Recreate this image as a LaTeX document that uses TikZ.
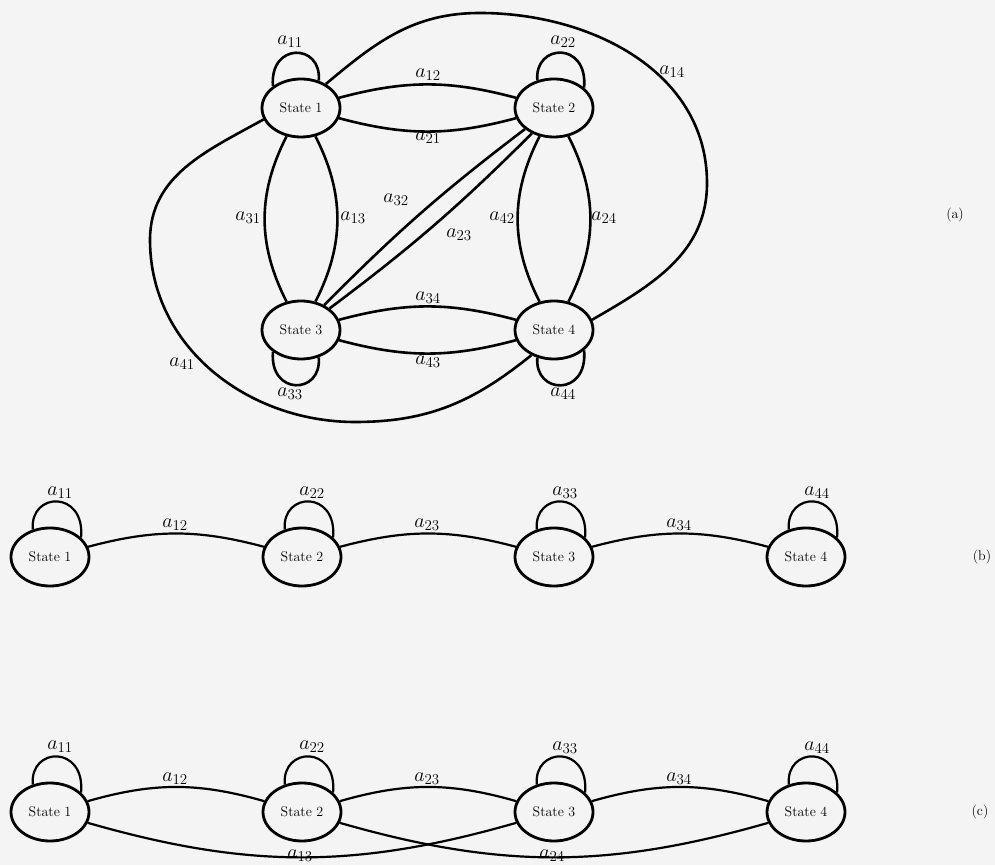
\RequirePackage{fix-cm}
\documentclass[tikz,border=0pt]{standalone}
\usetikzlibrary{shapes.geometric}
\DeclareMathSizes{20}{20}{15}{12}
\definecolor{bgc}{RGB}{244,244,244}
\tikzset{
  st/.style={ellipse, draw, line width=2.8pt, minimum width=78pt, minimum height=58pt,
             inner sep=0pt, font=\fontsize{14}{16}\selectfont},
  ed/.style={line width=2.6pt},
  edb/.style={line width=2.2pt},
  lab/.style={font=\fontsize{20}{23}\selectfont, inner sep=0pt},
  tag/.style={font=\fontsize{14}{16}\selectfont, inner sep=0pt}
}
\begin{document}
\begin{tikzpicture}[x=1pt,y=1pt]
\useasboundingbox (0,0) rectangle (995,865);
\fill[bgc] (0,0) rectangle (995,865);

% ---------------- (a) ----------------
\node[st] (s1a) at (301,757) {State 1};
\node[st] (s2a) at (554,757) {State 2};
\node[st] (s3a) at (301,535) {State 3};
\node[st] (s4a) at (554,535) {State 4};

\draw[ed] (s1a.142) .. controls +(95:44) and +(85:38) .. (s1a.57);
\draw[ed] (s2a.121) .. controls +(95:37) and +(85:47) .. (s2a.34);
\draw[ed] (s3a.218) .. controls +(-95:44) and +(-85:38) .. (s3a.303);
\draw[ed] (s4a.239) .. controls +(-95:37) and +(-85:47) .. (s4a.326);

\draw[ed] (s1a) to[bend left=15] (s2a);
\draw[ed] (s1a) to[bend right=15] (s2a);
\draw[ed] (s1a) to[bend right=27] (s3a);
\draw[ed] (s1a) to[bend left=27] (s3a);
\draw[ed] (s2a) to[bend right=27] (s4a);
\draw[ed] (s2a) to[bend left=27] (s4a);
\draw[ed] (s3a) to[bend left=15] (s4a);
\draw[ed] (s3a) to[bend right=15] (s4a);
\draw[ed] (s3a.47) to[bend left=4] (s2a.216);
\draw[ed] (s3a.37) to[bend right=4] (s2a.229);

\coordinate (t14) at (480,852);
\coordinate (r14) at (707,682);
\draw[ed] (s1a.44) to[out=40,in=180] (t14) to[out=0,in=90] (r14) to[out=-90,in=30] (s4a.15);

\coordinate (l41) at (150,625);
\coordinate (b41) at (355,443);
\draw[ed] (s1a.197) to[out=209,in=90] (l41) to[out=-90,in=180] (b41) to[out=0,in=219] (s4a.228);

\node[lab] (la11) at (290,823) {$a_{11}$};
\node[lab] (la22) at (563,823) {$a_{22}$};
\node[lab] (la14) at (672,793) {$a_{14}$};
\node[lab] (la12) at (428,790) {$a_{12}$};
\node[lab] (la21) at (428,727) {$a_{21}$};
\node[lab] (la31) at (248,647) {$a_{31}$};
\node[lab] (la13) at (353,647) {$a_{13}$};
\node[lab] (la32) at (396,665) {$a_{32}$};
\node[lab] (la23) at (459,630) {$a_{23}$};
\node[lab] (la42) at (502,647) {$a_{42}$};
\node[lab] (la24) at (604,647) {$a_{24}$};
\node[lab] (la34) at (428,567) {$a_{34}$};
\node[lab] (la43) at (428,503) {$a_{43}$};
\node[lab] (la33) at (290,471) {$a_{33}$};
\node[lab] (la44) at (563,471) {$a_{44}$};
\node[lab] (la41) at (182,501) {$a_{41}$};
\node[tag] (ta) at (955,650) {(a)};

% ---------------- (b) ----------------
\node[st] (s1b) at (50,308) {State 1};
\node[st] (s2b) at (302,308) {State 2};
\node[st] (s3b) at (554,308) {State 3};
\node[st] (s4b) at (806,308) {State 4};
\foreach \n in {s1b,s2b,s3b,s4b}{
  \draw[edb] (\n.122) .. controls +(95:38) and +(85:48) .. (\n.32);
}
\draw[edb] (s1b) to[bend left=15] (s2b);
\draw[edb] (s2b) to[bend left=15] (s3b);
\draw[edb] (s3b) to[bend left=15] (s4b);
\node[lab] (lb11) at (60,372) {$a_{11}$};
\node[lab] (lb22) at (312,372) {$a_{22}$};
\node[lab] (lb33) at (565,372) {$a_{33}$};
\node[lab] (lb44) at (817,372) {$a_{44}$};
\node[lab] (lb12) at (175,340) {$a_{12}$};
\node[lab] (lb23) at (427,340) {$a_{23}$};
\node[lab] (lb34) at (679,340) {$a_{34}$};
\node[tag] (tb) at (982,308) {(b)};

% ---------------- (c) ----------------
\node[st] (s1c) at (50,53) {State 1};
\node[st] (s2c) at (302,53) {State 2};
\node[st] (s3c) at (554,53) {State 3};
\node[st] (s4c) at (806,53) {State 4};
\foreach \n in {s1c,s2c,s3c,s4c}{
  \draw[edb] (\n.122) .. controls +(95:38) and +(85:48) .. (\n.32);
}
\draw[edb] (s1c) to[bend left=16] (s2c);
\draw[edb] (s2c) to[bend left=16] (s3c);
\draw[edb] (s3c) to[bend left=16] (s4c);
\draw[edb] (s1c) to[bend right=16] (s3c);
\draw[edb] (s2c) to[bend right=16] (s4c);
\node[lab] (lc11) at (60,118) {$a_{11}$};
\node[lab] (lc22) at (312,118) {$a_{22}$};
\node[lab] (lc33) at (565,117) {$a_{33}$};
\node[lab] (lc44) at (817,117) {$a_{44}$};
\node[lab] (lc12) at (175,86) {$a_{12}$};
\node[lab] (lc23) at (427,86) {$a_{23}$};
\node[lab] (lc34) at (679,86) {$a_{34}$};
\node[lab] (lc13) at (300,9) {$a_{13}$};
\node[lab] (lc24) at (552,9) {$a_{24}$};
\node[tag] (tc) at (980,53) {(c)};
\end{tikzpicture}
\end{document}
